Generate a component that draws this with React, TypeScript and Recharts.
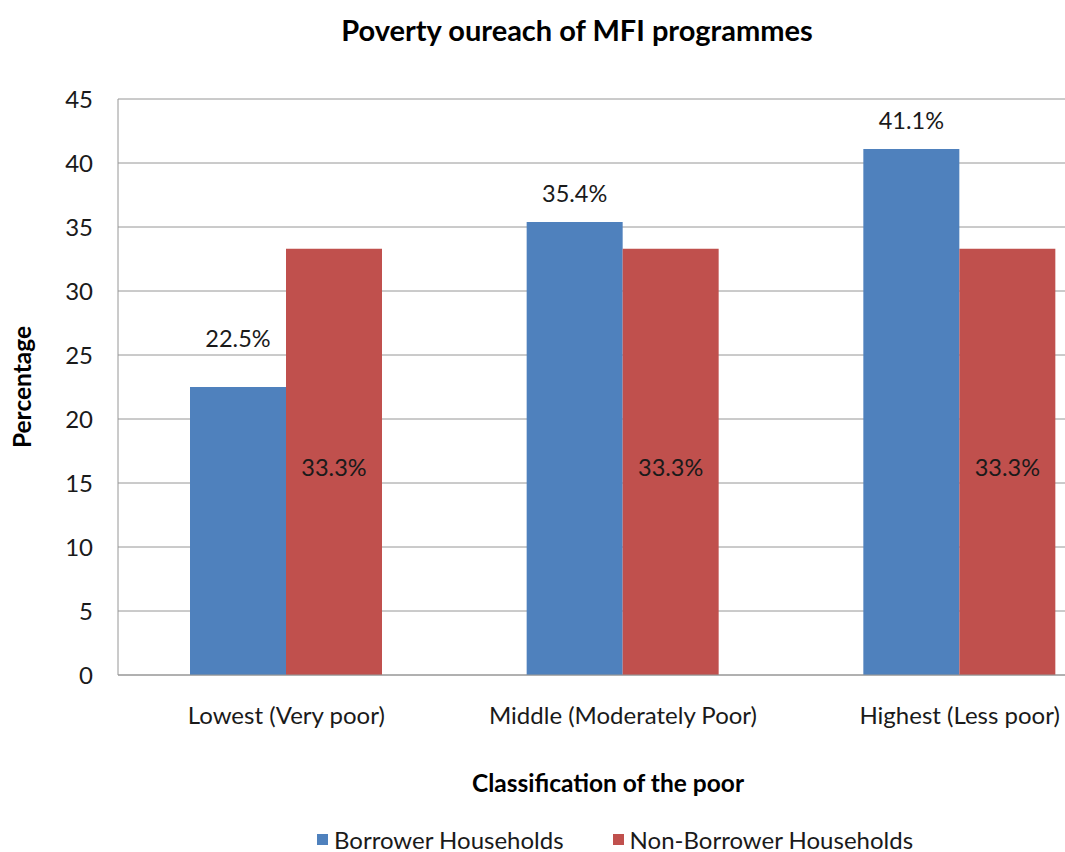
import React from "react";
import { BarChart, Bar, XAxis, YAxis, CartesianGrid, Legend, LabelList } from "recharts";

const categories = ["Lowest (Very poor)", "Middle (Moderately Poor)", "Highest (Less poor)"];
const borrowerValues = [22.5, 35.4, 41.1];
const nonBorrowerValues = [33.3, 33.3, 33.3];
const yTicks = [0, 5, 10, 15, 20, 25, 30, 35, 40, 45];

const FONT = "Lato, 'Open Sans', sans-serif";
const BLUE = "#4F81BD";
const RED = "#C0504D";
const GRID = "#969696";

// how far above the bar top each blue label sits (first one was nudged up in the original)
const blueLabelLift = [40, 20, 20];

const data = categories.map((name, i) => ({
  name,
  borrower: borrowerValues[i],
  nonBorrower: nonBorrowerValues[i],
}));

const BlueLabel = (props: any) => {
  const { x, y, width, value, index } = props;
  return (
    <text
      x={x + width / 2}
      y={y - blueLabelLift[index]}
      textAnchor="middle"
      fontFamily={FONT}
      fontSize={23.5}
      fill="#1a1a1a"
    >
      {value}%
    </text>
  );
};

const RedLabel = (props: any) => {
  const { x, y, width, height, value } = props;
  return (
    <text
      x={x + width / 2}
      y={y + height / 2 + 14}
      textAnchor="middle"
      fontFamily={FONT}
      fontSize={23.5}
      fill="#1a1a1a"
    >
      {value}%
    </text>
  );
};

const LegendContent = () => (
  <div style={{ display: "flex", gap: 49, fontFamily: FONT, fontSize: 24, color: "#1a1a1a", paddingLeft: 317, height: 26, alignItems: "center" }}>
    <div style={{ display: "flex", alignItems: "center", gap: 6 }}>
      <span style={{ width: 11, height: 11, background: BLUE, display: "inline-block" }} />
      <span>Borrower Households</span>
    </div>
    <div style={{ display: "flex", alignItems: "center", gap: 6 }}>
      <span style={{ width: 11, height: 11, background: RED, display: "inline-block" }} />
      <span>Non-Borrower Households</span>
    </div>
  </div>
);

export default function App() {
  return (
    <div style={{ position: "fixed", left: 0, top: 0, width: 1065, height: 852, overflow: "hidden", background: "#fff" }}>
      <div
        style={{
          position: "absolute",
          top: 12,
          left: 0,
          width: 1154,
          textAlign: "center",
          fontFamily: FONT,
          fontWeight: 700,
          fontSize: 29,
          color: "#000",
        }}
      >
        Poverty oureach of MFI programmes
      </div>
      <BarChart
        width={1128}
        height={852}
        data={data}
        margin={{ top: 99, right: 0, bottom: 0, left: 0 }}
        barCategoryGap={72}
        barGap={0}
      >
        <CartesianGrid vertical={false} stroke={GRID} />
        <XAxis
          dataKey="name"
          height={151}
          axisLine={{ stroke: GRID }}
          tickLine={false}
          tickMargin={26}
          tick={{ fontFamily: FONT, fontSize: 24, fill: "#1a1a1a" }}
          label={{
            value: "Classification of the poor",
            position: "insideBottom",
            offset: 34,
            dx: -15,
            style: { fontFamily: FONT, fontWeight: 700, fontSize: 24.5, fill: "#000" },
          }}
        />
        <YAxis
          width={118}
          domain={[0, 45]}
          ticks={yTicks}
          interval={0}
          axisLine={{ stroke: GRID }}
          tickLine={false}
          tickMargin={19}
          tick={{ fontFamily: FONT, fontSize: 24, fill: "#1a1a1a" }}
          label={{
            value: "Percentage",
            angle: -90,
            position: "center",
            dx: -37,
            style: { fontFamily: FONT, fontWeight: 700, fontSize: 24.5, fill: "#000", textAnchor: "middle" },
          }}
        />
        <Legend verticalAlign="bottom" content={<LegendContent />} wrapperStyle={{ left: 0, bottom: 0 }} />
        <Bar dataKey="borrower" name="Borrower Households" fill={BLUE} isAnimationActive={false}>
          <LabelList dataKey="borrower" content={<BlueLabel />} />
        </Bar>
        <Bar dataKey="nonBorrower" name="Non-Borrower Households" fill={RED} isAnimationActive={false}>
          <LabelList dataKey="nonBorrower" content={<RedLabel />} />
        </Bar>
      </BarChart>
    </div>
  );
}
